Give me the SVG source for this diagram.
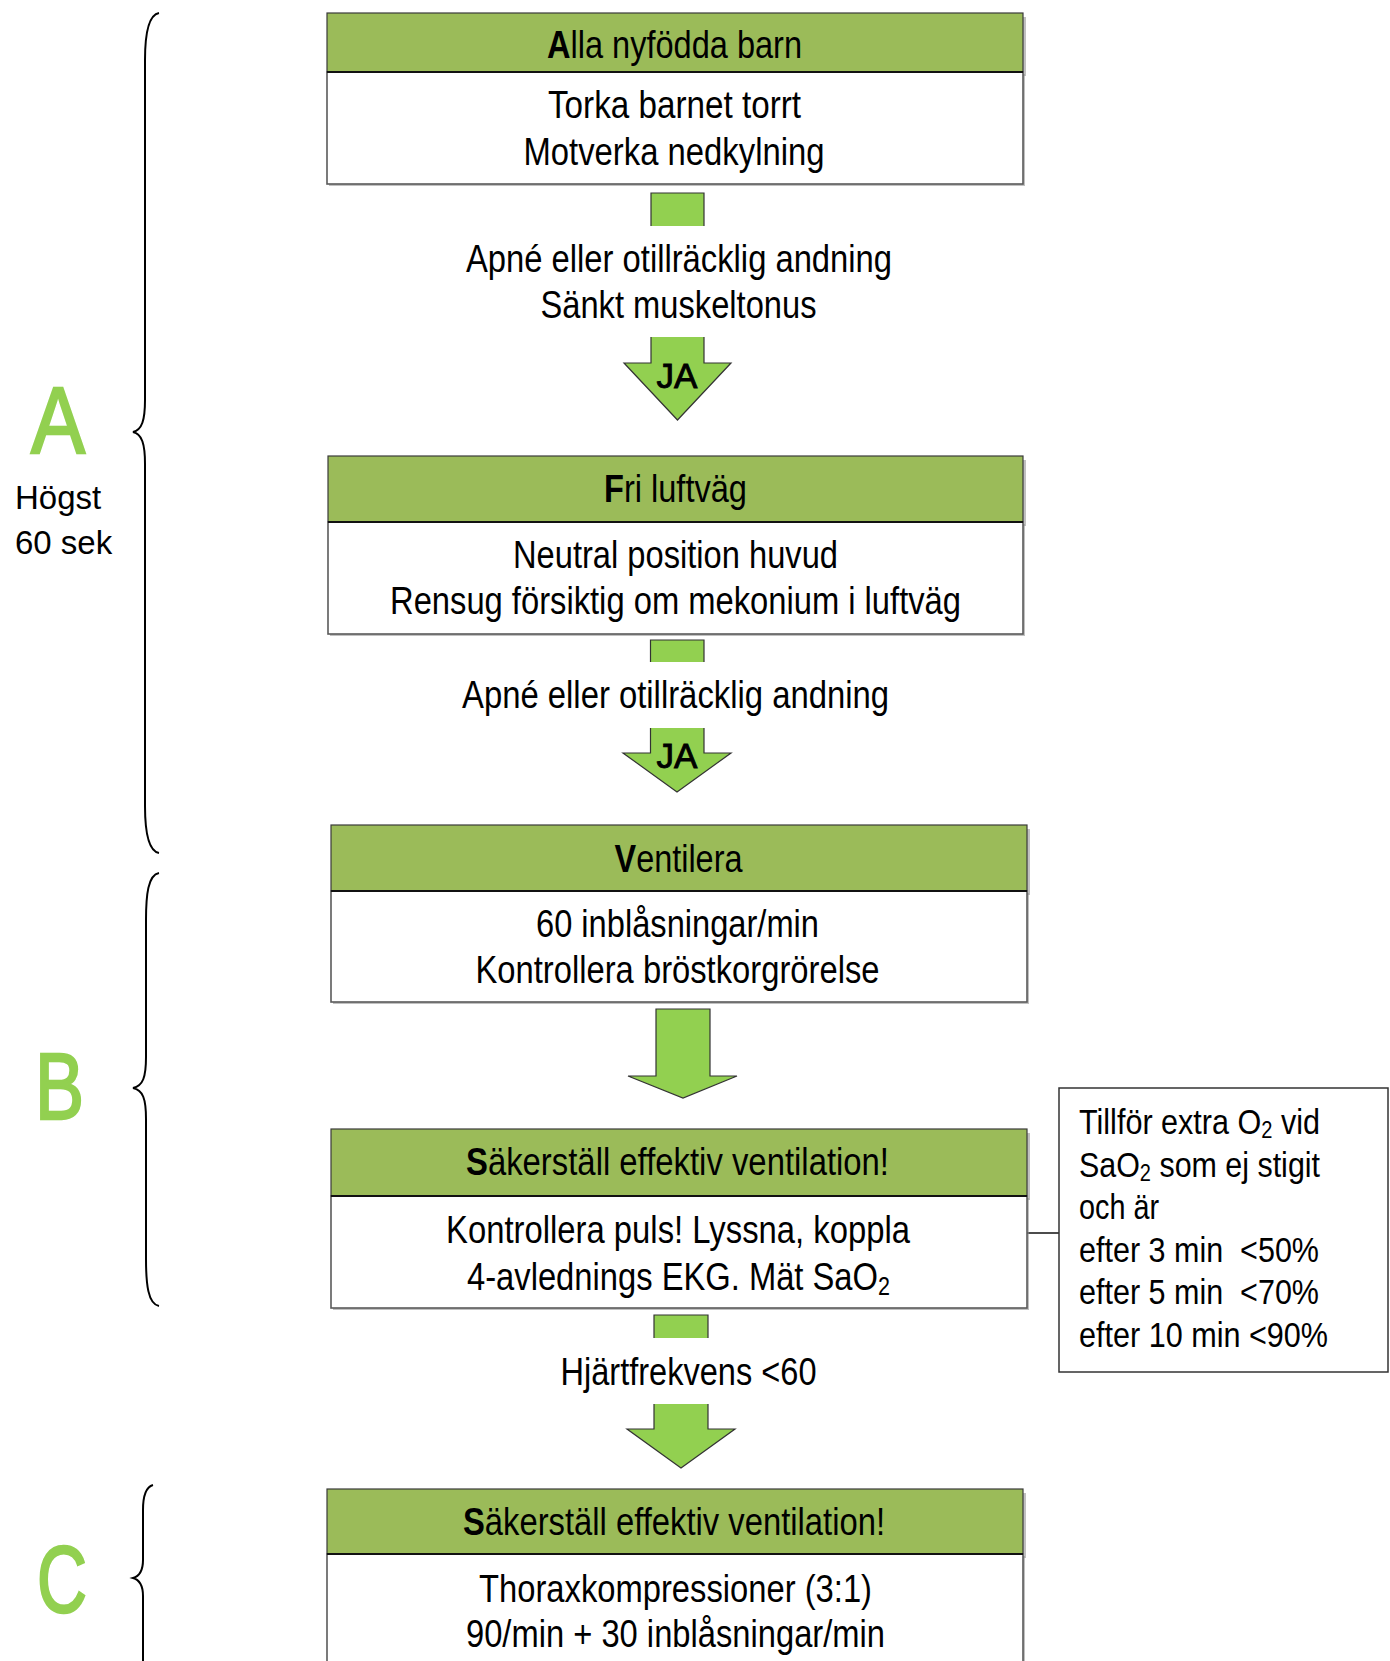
<svg xmlns="http://www.w3.org/2000/svg" width="1390" height="1661" viewBox="0 0 1390 1661">
<style>
.hdr{fill:#9BBB59;stroke:#3a3a3a;stroke-width:1.2}
.sh{fill:#8c8c8c;opacity:0.55}
.body{fill:#ffffff;stroke:#5a5a5a;stroke-width:1.6}
.sep{stroke:#111;stroke-width:2}
.t{font-family:"Liberation Sans",Arial,sans-serif;font-size:38px;fill:#000;text-anchor:middle}
.st{font-family:"Liberation Sans",Arial,sans-serif;font-size:35px;fill:#000}
.ja{font-family:"Liberation Sans",Arial,sans-serif;font-size:35px;fill:#000;stroke:#000;stroke-width:0.9;text-anchor:middle}
.big{font-family:"Liberation Sans",Arial,sans-serif;font-size:95px;fill:#92D050;stroke:#92D050;stroke-width:2.5}
.lbl{font-family:"Liberation Sans",Arial,sans-serif;font-size:33px;fill:#000}
.af{fill:#92D050;stroke:none}
.as{fill:none;stroke:#333;stroke-width:1.2;stroke-linejoin:miter}
.brace{fill:none;stroke:#000;stroke-width:2}
.b{font-weight:bold}
</style>

<g id="braces">
<path class="brace" d="M159,13 C148,15 145,35 145,60 L145,400 C145,420 142,430 133,432 C142,434 145,444 145,464 L145,806 C145,831 148,851 159,853"/>
<path class="brace" d="M159,873 C148,875 146,895 146,920 L146,1057 C146,1077 143,1086 133,1088 C143,1090 146,1099 146,1119 L146,1259 C146,1284 148,1304 159,1306"/>
<path class="brace" d="M153,1485 C146,1487 143,1495 143,1510 L143,1560 C143,1570 140,1576 133,1578 C140,1580 143,1586 143,1596 L143,1661"/>
<text class="big" x="31" y="453" textLength="54" lengthAdjust="spacingAndGlyphs">A</text>
<text class="lbl" x="15" y="509">Högst</text>
<text class="lbl" x="15" y="554">60 sek</text>
<text class="big" x="35" y="1119" textLength="49" lengthAdjust="spacingAndGlyphs">B</text>
<text class="big" x="37" y="1612" textLength="50" lengthAdjust="spacingAndGlyphs">C</text>
</g>

<g id="connectors">
<rect class="af" x="651" y="193" width="53" height="33"/>
<path class="as" d="M651,226 V193 H704 V226"/>
<polygon class="af" points="651,337 704,337 704,363 731,363 677.5,420 624,363 651,363"/>
<path class="as" d="M651,337 V363 H624 L677.5,420 L731,363 H704 V337"/>
<rect class="af" x="650.5" y="640" width="53.5" height="22"/>
<path class="as" d="M650.5,662 V640 H704 V662"/>
<polygon class="af" points="650.5,728 704,728 704,753 731,753 677,792 623,753 650.5,753"/>
<path class="as" d="M650.5,728 V753 H623 L677,792 L731,753 H704 V728"/>
<polygon class="af" points="656,1009 710,1009 710,1076 737,1076 683,1098 628,1076 656,1076"/>
<path class="as" d="M656,1009 H710 V1076 H737 L683,1098 L628,1076 H656 Z"/>
<rect class="af" x="654" y="1315" width="54" height="23"/>
<path class="as" d="M654,1338 V1315 H708 V1338"/>
<polygon class="af" points="654,1404 708,1404 708,1429 735,1429 681,1468 627,1429 654,1429"/>
<path class="as" d="M654,1404 V1429 H627 L681,1468 L735,1429 H708 V1404"/>
<line x1="1027" y1="1233" x2="1059" y2="1233" stroke="#111" stroke-width="1.5"/>
</g>

<g id="node-alla">
<rect class="sh" x="330" y="17" width="696" height="59"/>
<rect class="sh" x="329" y="74" width="696" height="112"/>
<rect class="hdr" x="327" y="13" width="696" height="59"/>
<rect class="body" x="327" y="72" width="696" height="112"/>
<line class="sep" x1="327" y1="72" x2="1023" y2="72"/>
<text class="t" x="674.5" y="58" textLength="255" lengthAdjust="spacingAndGlyphs"><tspan class="b">A</tspan>lla nyfödda barn</text>
<text class="t" x="674.5" y="118" textLength="253" lengthAdjust="spacingAndGlyphs">Torka barnet torrt</text>
<text class="t" x="674" y="165" textLength="301" lengthAdjust="spacingAndGlyphs">Motverka nedkylning</text>
</g>

<g id="cond-1">
<text class="t" x="679" y="272" textLength="426" lengthAdjust="spacingAndGlyphs">Apné eller otillräcklig andning</text>
<text class="t" x="678.5" y="318" textLength="276" lengthAdjust="spacingAndGlyphs">Sänkt muskeltonus</text>
<text class="ja" x="677" y="388">JA</text>
</g>

<g id="node-fri">
<rect class="sh" x="331" y="460" width="695" height="66"/>
<rect class="sh" x="330" y="524" width="695" height="112"/>
<rect class="hdr" x="328" y="456" width="695" height="66"/>
<rect class="body" x="328" y="522" width="695" height="112"/>
<line class="sep" x1="328" y1="522" x2="1023" y2="522"/>
<text class="t" x="675.5" y="502" textLength="143" lengthAdjust="spacingAndGlyphs"><tspan class="b">F</tspan>ri luftväg</text>
<text class="t" x="675.5" y="568" textLength="325" lengthAdjust="spacingAndGlyphs">Neutral position huvud</text>
<text class="t" x="675.5" y="614" textLength="571" lengthAdjust="spacingAndGlyphs">Rensug försiktig om mekonium i luftväg</text>
</g>

<g id="cond-2">
<text class="t" x="675.5" y="708" textLength="427" lengthAdjust="spacingAndGlyphs">Apné eller otillräcklig andning</text>
<text class="ja" x="677" y="768">JA</text>
</g>

<g id="node-ventilera">
<rect class="sh" x="334" y="829" width="696" height="66"/>
<rect class="sh" x="333" y="893" width="696" height="111"/>
<rect class="hdr" x="331" y="825" width="696" height="66"/>
<rect class="body" x="331" y="891" width="696" height="111"/>
<line class="sep" x1="331" y1="891" x2="1027" y2="891"/>
<text class="t" x="678.5" y="872" textLength="128" lengthAdjust="spacingAndGlyphs"><tspan class="b">V</tspan>entilera</text>
<text class="t" x="677.5" y="937" textLength="283" lengthAdjust="spacingAndGlyphs">60 inblåsningar/min</text>
<text class="t" x="677.5" y="983" textLength="404" lengthAdjust="spacingAndGlyphs">Kontrollera bröstkorgrörelse</text>
</g>

<g id="node-sakerstall-b">
<rect class="sh" x="334" y="1133" width="696" height="67"/>
<rect class="sh" x="333" y="1198" width="696" height="112"/>
<rect class="hdr" x="331" y="1129" width="696" height="67"/>
<rect class="body" x="331" y="1196" width="696" height="112"/>
<line class="sep" x1="331" y1="1196" x2="1027" y2="1196"/>
<text class="t" x="677.5" y="1175" textLength="423" lengthAdjust="spacingAndGlyphs"><tspan class="b">S</tspan>äkerställ effektiv ventilation!</text>
<text class="t" x="678" y="1243" textLength="464" lengthAdjust="spacingAndGlyphs">Kontrollera puls! Lyssna, koppla</text>
<text class="t" x="678.5" y="1290" textLength="423" lengthAdjust="spacingAndGlyphs">4-avlednings EKG. Mät SaO<tspan font-size="25" dy="5">2</tspan></text>
</g>

<g id="note-o2">
<rect x="1059" y="1088" width="329" height="284" fill="#fff" stroke="#333" stroke-width="1.5"/>
<text class="st" x="1079" y="1134" textLength="241" lengthAdjust="spacingAndGlyphs">Tillför extra O<tspan font-size="23" dy="4">2</tspan><tspan dy="-4"> vid</tspan></text>
<text class="st" x="1079" y="1176.5" textLength="241" lengthAdjust="spacingAndGlyphs">SaO<tspan font-size="23" dy="4">2</tspan><tspan dy="-4"> som ej stigit</tspan></text>
<text class="st" x="1079" y="1219" textLength="80" lengthAdjust="spacingAndGlyphs">och är</text>
<text class="st" x="1079" y="1261.5" textLength="240" lengthAdjust="spacingAndGlyphs" xml:space="preserve">efter 3 min  &lt;50%</text>
<text class="st" x="1079" y="1304" textLength="240" lengthAdjust="spacingAndGlyphs" xml:space="preserve">efter 5 min  &lt;70%</text>
<text class="st" x="1079" y="1346.5" textLength="249" lengthAdjust="spacingAndGlyphs">efter 10 min &lt;90%</text>
</g>

<g id="cond-3">
<text class="t" x="688.5" y="1385" textLength="256" lengthAdjust="spacingAndGlyphs">Hjärtfrekvens &lt;60</text>
</g>

<g id="node-sakerstall-c">
<rect class="sh" x="330" y="1493" width="696" height="65"/>
<rect class="sh" x="329" y="1556" width="696" height="120"/>
<rect class="hdr" x="327" y="1489" width="696" height="65"/>
<rect class="body" x="327" y="1554" width="696" height="120"/>
<line class="sep" x1="327" y1="1554" x2="1023" y2="1554"/>
<text class="t" x="674" y="1535" textLength="422" lengthAdjust="spacingAndGlyphs"><tspan class="b">S</tspan>äkerställ effektiv ventilation!</text>
<text class="t" x="675.5" y="1602" textLength="393" lengthAdjust="spacingAndGlyphs">Thoraxkompressioner (3:1)</text>
<text class="t" x="675.5" y="1647" textLength="419" lengthAdjust="spacingAndGlyphs">90/min + 30 inblåsningar/min</text>
</g>
</svg>
